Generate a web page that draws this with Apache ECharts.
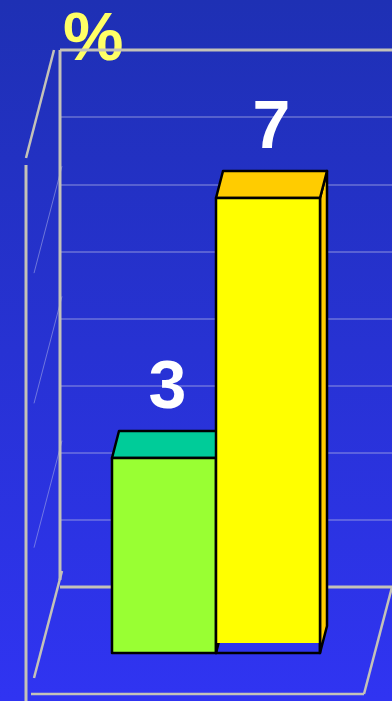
<!DOCTYPE html>
<html>
<head>
<meta charset="utf-8">
<script src="https://cdn.jsdelivr.net/npm/echarts@6/dist/echarts.min.js"></script>
<style>
html,body{margin:0;padding:0;background:#2633d0;}
#chart{width:392px;height:701px;}
</style>
</head>
<body>
<div id="chart"></div>
<script>
// ---- data ----
var categories = ['Group A', 'Group B'];
var values = [3, 7];
var unitLabel = '%';
var wallTicks = [0, 1, 2, 3, 4, 5, 6, 7, 8];

// ---- styles ----
var frontColors = ['#99ff33', '#ffff00'];
var topColors = ['#00cc99', '#ffcc00'];
var sideColors = ['#00cc99', '#ffcc00'];
var frontFillShort = [0, 10]; // unfilled strip at bottom of front face
var DX = 7, DY = -27;         // bar depth offset
var frameColor = '#c4c2b8';

var chart = echarts.init(document.getElementById('chart'), null, {renderer: 'canvas'});

function barItem(params, api) {
  var i = params.dataIndex;
  var v = api.value(1);
  var top = api.coord([i, v]);
  var base = api.coord([i, 0]);
  var w = api.size([1, 0])[0];
  var x0 = top[0] - w / 2, x1 = top[0] + w / 2;
  var yT = top[1], yB = base[1];
  var lw = 2.5;
  var children = [];
  children.push({type: 'polygon', shape: {points: [[x1, yT], [x1 + DX, yT + DY], [x1 + DX, yB + DY], [x1, yB]]},
    style: {fill: sideColors[i], stroke: '#000', lineWidth: lw, lineJoin: 'round'}});
  children.push({type: 'polygon', shape: {points: [[x0, yT], [x0 + DX, yT + DY], [x1 + DX, yT + DY], [x1, yT]]},
    style: {fill: topColors[i], stroke: '#000', lineWidth: lw, lineJoin: 'round'}});
  children.push({type: 'rect', shape: {x: x0, y: yT, width: w, height: yB - yT - frontFillShort[i]},
    style: {fill: frontColors[i]}});
  children.push({type: 'polygon', shape: {points: [[x0, yT], [x1, yT], [x1, yB], [x0, yB]]},
    style: {fill: null, stroke: '#000', lineWidth: lw, lineJoin: 'round'}});
  children.push({type: 'text', x: (x0 + x1) / 2 + DX / 2, y: yT + DY - 42,
    style: {text: String(values[i]), fill: '#ffffff', font: 'bold 68px "Liberation Sans", Arial, sans-serif',
      align: 'center', verticalAlign: 'middle'}});
  return {type: 'group', children: children};
}

function frameItem(params, api) {
  var maxV = wallTicks[wallTicks.length - 1];
  var TL = api.coord([0, maxV]), TR = api.coord([1, maxV]);
  var BL = api.coord([0, 0]), BR = api.coord([1, 0]);
  var ox = -28, oy = 107;
  function line(p, q, lw, col) {
    return {type: 'line', shape: {x1: p[0], y1: p[1], x2: q[0], y2: q[1]},
      style: {stroke: col || frameColor, lineWidth: lw}};
  }
  var ch = [];
  [6.27, 4.33, 2.18].forEach(function (v) {
    var p = api.coord([0, v]);
    ch.push(line([p[0] + 2, p[1]], [p[0] + 2 + ox, p[1] + oy], 1, 'rgba(170,175,230,0.55)'));
  });
  ch.push(line(TL, [TR[0] + 20, TR[1]], 3));
  ch.push(line(TL, [BL[0], BL[1] - 7], 3));
  ch.push(line(BL, [BR[0] + 20, BR[1]], 3));
  ch.push(line([TL[0] - 6, TL[1]], [TL[0] - 6 + ox, TL[1] + oy + 1], 2.5));
  ch.push(line([TL[0] - 34, TL[1] + 115], [TL[0] - 34, 720], 3));
  ch.push(line([BL[0] + 2, BL[1] - 16], [BL[0] + 2 + ox, BL[1] - 16 + oy], 2.5));
  ch.push(line([BL[0] - 29, BL[1] + oy], [BR[0] + ox, BR[1] + oy], 2.5));
  ch.push(line([BR[0] + ox, BR[1] + oy], BR, 2.5));
  return {type: 'group', children: ch};
}

var option = {
  animation: false,
  backgroundColor: new echarts.graphic.LinearGradient(0, 0, 0, 1, [
    {offset: 0, color: '#1e30b4'},
    {offset: 1, color: '#3034f2'}
  ]),
  grid: [
    {left: 112, width: 208, top: 133, bottom: 48},
    {left: 60, right: -15, top: 50, bottom: 114}
  ],
  xAxis: [
    {type: 'category', gridIndex: 0, data: categories, show: false},
    {type: 'value', gridIndex: 1, min: 0, max: 1, show: false}
  ],
  yAxis: [
    {type: 'value', gridIndex: 0, min: 0, max: 8, show: false},
    {type: 'value', gridIndex: 1, min: 0, max: wallTicks[wallTicks.length - 1], interval: 1,
      axisLine: {show: false}, axisTick: {show: false}, axisLabel: {show: false},
      splitLine: {show: true, lineStyle: {color: 'rgba(175,180,230,0.5)', width: 1.5}}}
  ],
  graphic: [
    {type: 'text', left: 63, top: 7,
      style: {text: unitLabel, fill: '#ffff66', font: 'bold 68px "Liberation Sans", Arial, sans-serif'}}
  ],
  series: [
    {type: 'custom', xAxisIndex: 1, yAxisIndex: 1, z: 1, data: [[0, 0]], renderItem: frameItem, silent: true},
    {type: 'custom', xAxisIndex: 0, yAxisIndex: 0, z: 5,
      data: values.map(function (v, i) { return [i, v]; }), renderItem: barItem}
  ]
};
chart.setOption(option);
</script>
</body>
</html>
